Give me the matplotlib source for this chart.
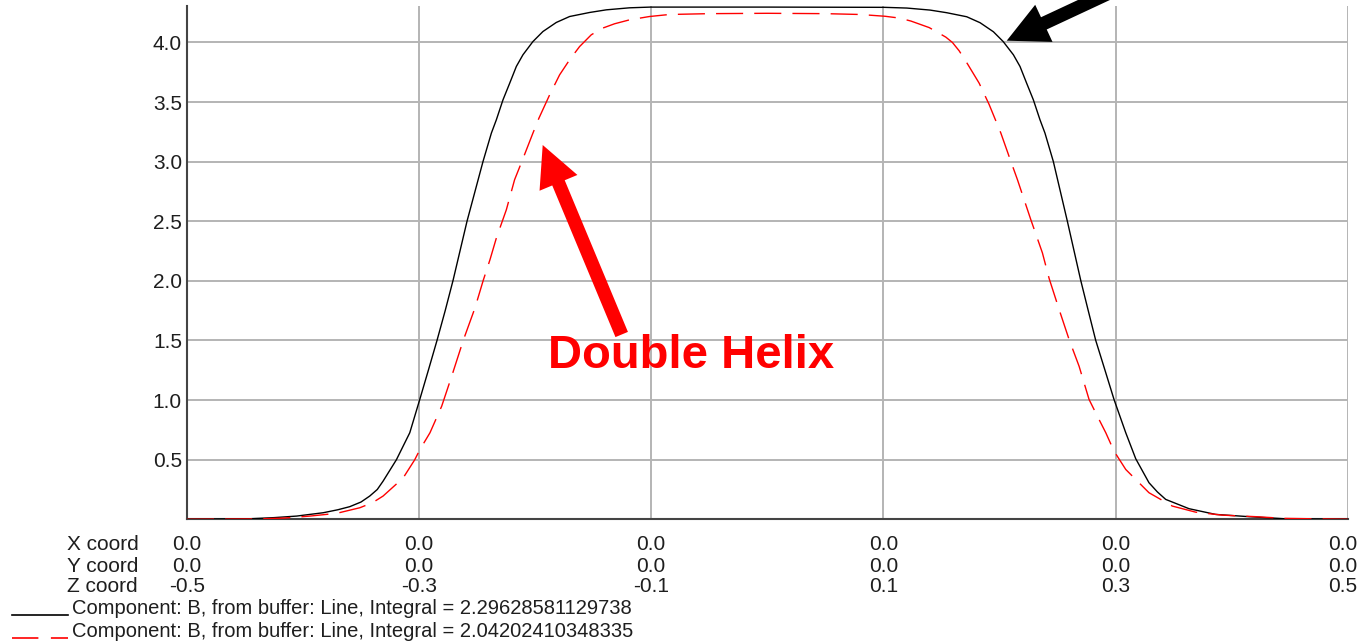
import matplotlib
matplotlib.use('Agg')
import matplotlib.pyplot as plt
from matplotlib.patches import FancyArrow
from matplotlib.transforms import IdentityTransform, blended_transform_factory
from matplotlib.lines import Line2D

# ---------------- data ----------------
z_black = [-0.5, -0.445, -0.425, -0.4055, -0.3826, -0.37, -0.3597, -0.35, -0.3425,
           -0.336, -0.331, -0.3195, -0.308, -0.2994, -0.292, -0.2845, -0.2775,
           -0.2707, -0.2587, -0.2449, -0.2377, -0.2334, -0.2277, -0.2219, -0.2162,
           -0.2105, -0.2019, -0.1933, -0.1818, -0.1703, -0.153, -0.1387, -0.1187,
           -0.101, 0.0, 0.101, 0.1202, 0.1402, 0.1545, 0.1718, 0.1833, 0.1948,
           0.2032, 0.212, 0.2177, 0.2234, 0.2292, 0.2349, 0.2392, 0.2464, 0.2585,
           0.27, 0.2765, 0.2829, 0.2916, 0.2987, 0.3088, 0.3174, 0.3288, 0.336,
           0.3432, 0.3633, 0.3862, 0.4149, 0.445, 0.5]
b_black = [0.0, 0.005, 0.014, 0.027, 0.055, 0.08, 0.106, 0.145, 0.195,
           0.25, 0.32, 0.50, 0.726, 1.005, 1.25, 1.502, 1.75,
           2.005, 2.50, 3.002, 3.24, 3.352, 3.519, 3.659, 3.799,
           3.897, 4.008, 4.092, 4.168, 4.218, 4.252, 4.274, 4.291,
           4.297, 4.297, 4.295, 4.289, 4.272, 4.25, 4.216, 4.166, 4.09,
           4.008, 3.897, 3.799, 3.659, 3.519, 3.352, 3.24, 3.002, 2.50,
           2.005, 1.75, 1.502, 1.229, 1.005, 0.726, 0.508, 0.307, 0.23,
           0.167, 0.089, 0.041, 0.022, 0.005, 0.0]

z_red = [-0.5, -0.44, -0.417, -0.394, -0.371, -0.351, -0.34, -0.331, -0.3137,
         -0.3037, -0.2992, -0.2906, -0.2805, -0.2719, -0.2619, -0.2518, -0.2447,
         -0.2389, -0.2334, -0.2248, -0.2177, -0.212, -0.2019, -0.1967, -0.1875,
         -0.1789, -0.1703, -0.1617, -0.1516, -0.1417, -0.1316, -0.1187, -0.1015,
         -0.0843, -0.05, 0.0, 0.05, 0.08, 0.1015, 0.1137, 0.1237, 0.1395, 0.1538,
         0.1595, 0.1653, 0.1725, 0.1825, 0.1911, 0.2012, 0.2083, 0.2155, 0.227,
         0.237, 0.2428, 0.2514, 0.26, 0.2686, 0.2772, 0.2843, 0.2916, 0.2987,
         0.3088, 0.3288, 0.3489, 0.369, 0.3919, 0.4207, 0.445, 0.5]
b_red = [0.0, 0.003, 0.01, 0.027, 0.05, 0.097, 0.14, 0.195, 0.347,
         0.50, 0.586, 0.726, 0.949, 1.20, 1.502, 1.774, 2.005,
         2.178, 2.36, 2.597, 2.849, 2.988, 3.24, 3.366, 3.561,
         3.729, 3.855, 3.966, 4.065, 4.121, 4.157, 4.19, 4.218,
         4.235, 4.242, 4.245, 4.242, 4.235, 4.22, 4.205, 4.18, 4.125, 4.045,
         4.0, 3.93, 3.82, 3.659, 3.48, 3.24, 3.044, 2.849, 2.514,
         2.235, 2.02, 1.76, 1.508, 1.284, 1.005, 0.866, 0.726, 0.572,
         0.418, 0.223, 0.111, 0.06, 0.035, 0.022, 0.008, 0.0]

y_ticks = [0.5, 1.0, 1.5, 2.0, 2.5, 3.0, 3.5, 4.0]
y_tick_labels = ['0.5', '1.0', '1.5', '2.0', '2.5', '3.0', '3.5', '4.0']
z_ticks = [-0.5, -0.3, -0.1, 0.1, 0.3, 0.5]
x_coord_labels = ['0.0', '0.0', '0.0', '0.0', '0.0', '0.0']
y_coord_labels = ['0.0', '0.0', '0.0', '0.0', '0.0', '0.0']
z_coord_labels = ['-0.5', '-0.3', '-0.1', '0.1', '0.3', '0.5']
row_names = ['X coord', 'Y coord', 'Z coord']
legend_labels = ['Component: B, from buffer: Line, Integral = 2.29628581129738',
                 'Component: B, from buffer: Line, Integral = 2.04202410348335']
annotation_text = 'Double Helix'

# ---------------- figure ----------------
plt.rcParams['font.family'] = ['Liberation Sans', 'DejaVu Sans']
plt.rcParams['lines.scale_dashes'] = False

W, H = 1358, 643
fig = plt.figure(figsize=(W / 100, H / 100), dpi=100)
L, R, T, B = 186.9, 1347.7, 6.0, 519.3
ax = fig.add_axes([L / W, 1 - B / H, (R - L) / W, (B - T) / H])

ax.set_xlim(-0.5, 0.5)
ax.set_ylim(0.0, (B - T) / 119.2)

grid_c = '#b4b4b4'
for zt in z_ticks[1:]:
    ax.axvline(zt, color=grid_c, lw=1.4, zorder=1)
for yt in y_ticks:
    ax.axhline(yt, color=grid_c, lw=1.4, zorder=1)

ax.plot(z_black, b_black, color='black', lw=1.0, zorder=3, solid_joinstyle='round')
ax.plot(z_red, b_red, color='#ff0000', lw=1.0, zorder=4, dashes=(19.5, 8.0))

txt_c = '#1e1e1e'
ax.set_yticks(y_ticks)
ax.set_yticklabels(y_tick_labels, fontsize=15, color=txt_c)
ax.tick_params(axis='y', length=0, pad=3.6)
ax.set_xticks(z_ticks)
ax.set_xticklabels([])
ax.tick_params(axis='x', length=0)

for s in ['top', 'right']:
    ax.spines[s].set_visible(False)
for s in ['left', 'bottom']:
    ax.spines[s].set_color('#444444')
    ax.spines[s].set_linewidth(1.5)
    ax.spines[s].set_zorder(2)

# coordinate rows below the axes
trans = blended_transform_factory(ax.transData, fig.transFigure)
row_baselines = [550.0, 571.5, 592.5]
for name, yb in zip(row_names, row_baselines):
    fig.text(67 / W, 1 - yb / H, name, fontsize=15, color=txt_c, va='baseline', ha='left')
for labels, yb in zip([x_coord_labels, y_coord_labels, z_coord_labels], row_baselines):
    for i, (zt, lab) in enumerate(zip(z_ticks, labels)):
        if i == len(z_ticks) - 1:
            fig.text(1357 / W, 1 - yb / H, lab, fontsize=15, color=txt_c,
                     ha='right', va='baseline')
        else:
            ax.text(zt, 1 - yb / H, lab, transform=trans, fontsize=15, color=txt_c,
                    ha='center', va='baseline', clip_on=False)

# legend rows
leg_baselines = [614.0, 637.0]
leg_styles = [dict(color='black', lw=1.2), dict(color='#ff0000', lw=1.2, dashes=(19.0, 9.0))]
for lab, yb, st in zip(legend_labels, leg_baselines, leg_styles):
    fig.add_artist(Line2D([12 / W, 68 / W], [1 - (yb + 1) / H, 1 - (yb + 1) / H],
                          transform=fig.transFigure, **st))
    fig.text(72 / W, 1 - yb / H, lab, fontsize=14.5, color=txt_c, va='baseline', ha='left')

# annotations
fig.text(691 / W, 1 - 368 / H, annotation_text, fontsize=34, fontweight='bold',
         color='#ff0000', ha='center', va='baseline')


def arrow(tail, tip, color):
    x0, y0 = tail[0], H - tail[1]
    x1, y1 = tip[0], H - tip[1]
    a = FancyArrow(x0, y0, x1 - x0, y1 - y0, width=13.5, head_width=41, head_length=41,
                   length_includes_head=True, transform=IdentityTransform(),
                   color=color, lw=0, zorder=10)
    fig.add_artist(a)


arrow((621.7, 334.5), (542.7, 145.0), '#ff0000')
arrow((1140.0, -21.5), (1006.7, 40.7), 'black')

fig.savefig('out.png', dpi=100)
